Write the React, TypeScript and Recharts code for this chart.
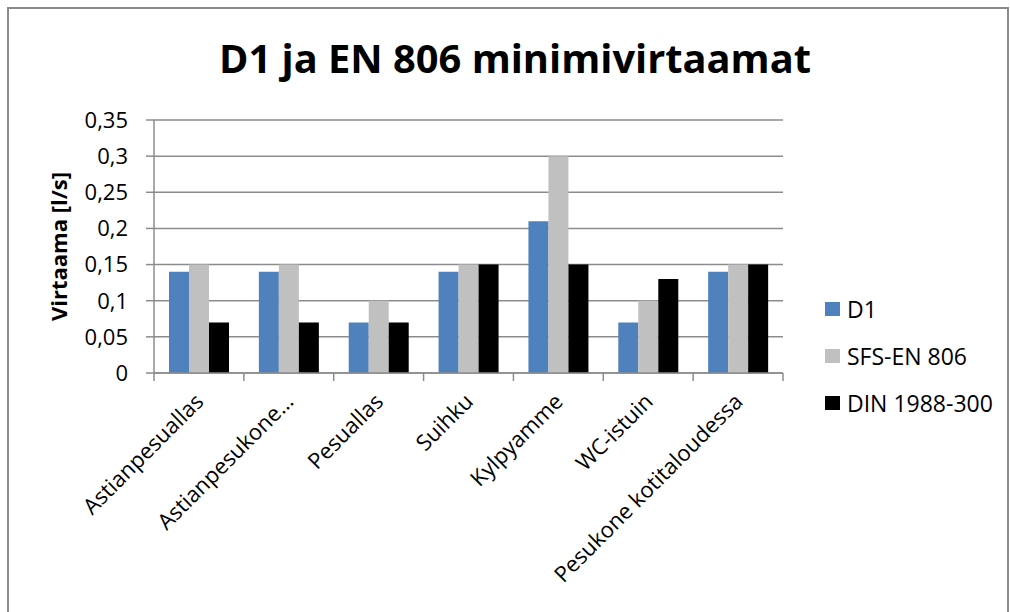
import React from 'react';
import { BarChart, Bar, XAxis, YAxis, CartesianGrid, Legend } from 'recharts';

const categories = [
  'Astianpesuallas',
  'Astianpesukone…',
  'Pesuallas',
  'Suihku',
  'Kylpyamme',
  'WC-istuin',
  'Pesukone kotitaloudessa',
];
const d1 = [0.14, 0.14, 0.07, 0.14, 0.21, 0.07, 0.14];
const sfsEn806 = [0.15, 0.15, 0.1, 0.15, 0.3, 0.1, 0.15];
const din1988 = [0.07, 0.07, 0.07, 0.15, 0.15, 0.13, 0.15];
const yTicks = [0, 0.05, 0.1, 0.15, 0.2, 0.25, 0.3, 0.35];

const seriesInfo = [
  { key: 'd1', name: 'D1', color: '#4F81BD' },
  { key: 'sfs', name: 'SFS-EN 806', color: '#C0C0C0' },
  { key: 'din', name: 'DIN 1988-300', color: '#000000' },
];

const data = categories.map((name, i) => ({
  name,
  d1: d1[i],
  sfs: sfsEn806[i],
  din: din1988[i],
}));

const FONT = '"Open Sans", sans-serif';
const GRID = '#8c8c8c';

const formatTick = (v: number) => String(Number(v.toFixed(2))).replace('.', ',');

const CategoryTick = (props: any) => {
  const { x, y, payload, index } = props;
  const half = payload.offset || 45;
  return (
    <g>
      <line x1={x - half} y1={y} x2={x - half} y2={y + 8} stroke={GRID} strokeWidth={1.5} />
      {index === categories.length - 1 && (
        <line x1={x + half} y1={y} x2={x + half} y2={y + 8} stroke={GRID} strokeWidth={1.5} />
      )}
      <text
        x={0}
        y={0}
        transform={`translate(${x + 6},${y + 30}) rotate(-45)`}
        textAnchor="end"
        fontFamily={FONT}
        fontSize={22}
        fill="#000"
      >
        {payload.value}
      </text>
    </g>
  );
};

const LegendBox = () => (
  <div style={{ fontFamily: FONT, fontSize: 23, color: '#000' }}>
    {seriesInfo.map((s) => (
      <div key={s.key} style={{ display: 'flex', alignItems: 'center', height: 47 }}>
        <span style={{ width: 15, height: 14, background: s.color, display: 'inline-block', marginRight: 7 }} />
        <span>{s.name}</span>
      </div>
    ))}
  </div>
);

const YLabel = (props: any) => {
  const { viewBox } = props;
  const cy = viewBox.y + viewBox.height / 2;
  return (
    <text
      x={67}
      y={cy}
      transform={`rotate(-90, 67, ${cy})`}
      textAnchor="middle"
      fontFamily={FONT}
      fontSize={22}
      fontWeight="bold"
      fill="#000"
    >
      Virtaama [l/s]
    </text>
  );
};

export default function App() {
  return (
    <div style={{ position: 'absolute', left: 0, top: 0, width: 1010, height: 612, background: '#fff', overflow: 'hidden' }}>
      <div
        style={{
          position: 'absolute',
          left: 7,
          top: 7,
          width: 998,
          height: 620,
          border: '2px solid #8a8a8a',
        }}
      />
      <svg style={{ position: 'absolute', left: 0, top: 0 }} width={1010} height={110}>
        <text
          x={219}
          y={73}
          textLength={592}
          lengthAdjust="spacingAndGlyphs"
          fontFamily={FONT}
          fontSize={40}
          fontWeight="bold"
          fill="#000"
        >
          D1 ja EN 806 minimivirtaamat
        </text>
      </svg>
      <div style={{ position: 'absolute', left: 0, top: 0 }}>
        <BarChart
          width={1010}
          height={612}
          data={data}
          margin={{ top: 120, right: 47, bottom: 39, left: 10 }}
          barCategoryGap="16.7%"
          barGap={0}
        >
          <CartesianGrid vertical={false} stroke={GRID} strokeWidth={1.5} />
          <XAxis
            dataKey="name"
            interval={0}
            height={200}
            axisLine={{ stroke: GRID, strokeWidth: 1.5 }}
            tickLine={false}
            tickSize={0}
            tickMargin={0}
            tick={<CategoryTick />}
          />
          <YAxis
            width={144}
            domain={[0, 0.35]}
            ticks={yTicks}
            tickFormatter={formatTick}
            axisLine={{ stroke: GRID, strokeWidth: 1.5 }}
            tickLine={{ stroke: GRID, strokeWidth: 1.5 }}
            tickSize={8}
            tickMargin={18}
            tick={{ fontFamily: FONT, fontSize: 22, fill: '#000' }}
            label={<YLabel />}
          />
          <Legend
            layout="vertical"
            align="right"
            verticalAlign="top"
            content={<LegendBox />}
            wrapperStyle={{ position: 'absolute', left: 825, top: 285, width: 180 }}
          />
          {seriesInfo.map((s) => (
            <Bar key={s.key} dataKey={s.key} name={s.name} fill={s.color} isAnimationActive={false} />
          ))}
        </BarChart>
      </div>
    </div>
  );
}
